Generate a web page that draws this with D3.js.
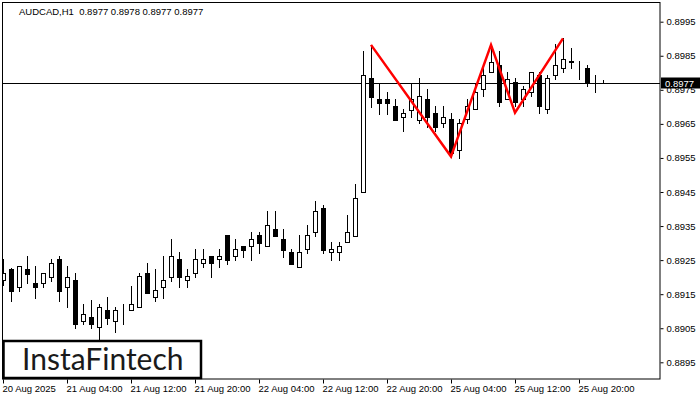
<!DOCTYPE html>
<html>
<head>
<meta charset="utf-8">
<script src="https://cdn.jsdelivr.net/npm/d3@7"></script>
<style>
  html, body { margin: 0; padding: 0; background: #ffffff; }
  svg { display: block; }
  text { font-family: "Liberation Sans", Arial, sans-serif; }
</style>
</head>
<body>
<svg id="chart" width="700" height="400"></svg>
<script>
// ---------- DATA ----------
const symbolTitle = "AUDCAD,H1  0.8977 0.8978 0.8977 0.8977";
const days = ["20 Aug", "21 Aug", "22 Aug", "25 Aug"];
const dayFirstHour = [20, 0, 0, 0];
const dayLastHour = [23, 23, 23, 23];

const openP  = [0.89192,0.89224,0.89172,0.89224,0.89183,0.89182,0.89201,0.89253,0.89172,0.89192,
                0.89071,0.89083,0.89053,0.89103,0.89071,0.89112,0.89103,0.89111,0.89211,0.89141,
                0.89172,0.89201,0.89253,0.89191,0.89211,0.89241,0.89262,0.89252,0.89324,0.89261,
                0.89291,0.89291,0.89324,0.89291,0.89340,0.89312,0.89274,0.89231,0.89282,0.89332,
                0.89403,0.89273,0.89273,0.89302,0.89322,0.89451,0.89784,0.89722,0.89722,0.89703,
                0.89671,0.89692,0.89662,0.89722,0.89681,0.89652,0.89663,0.89572,0.89663,0.89693,
                0.89752,0.89801,0.89823,0.89722,0.89772,0.89722,0.89743,0.89793,0.89693,0.89793,
                0.89813,0.89832,0.89824,0.89813,0.89783,0.8977];
const highP  = [0.89253,0.89226,0.89233,0.89262,0.89233,0.89213,0.89253,0.89262,0.89233,0.89211,
                0.89121,0.89133,0.89121,0.89143,0.89113,0.89121,0.89174,0.89211,0.89241,0.89224,
                0.89262,0.89311,0.89275,0.89224,0.89283,0.89283,0.89262,0.89283,0.89324,0.89312,
                0.89291,0.89333,0.89333,0.89394,0.89394,0.89341,0.89283,0.89324,0.89353,0.89424,
                0.89412,0.89303,0.89303,0.89382,0.89473,0.89864,0.89882,0.89771,0.89743,0.89722,
                0.89693,0.89771,0.89784,0.89752,0.89703,0.89703,0.89681,0.89663,0.89722,0.89770,
                0.89813,0.89882,0.89864,0.89801,0.89784,0.89762,0.89801,0.89801,0.89793,0.89885,
                0.89901,0.89872,0.89834,0.89822,0.89793,0.8978];
const lowP   = [0.89177,0.89131,0.89160,0.89182,0.89140,0.89172,0.89190,0.89131,0.89111,0.89052,
                0.89062,0.89052,0.89018,0.89062,0.89040,0.89062,0.89103,0.89111,0.89153,0.89131,
                0.89140,0.89190,0.89172,0.89172,0.89201,0.89231,0.89201,0.89231,0.89239,0.89251,
                0.89260,0.89251,0.89272,0.89291,0.89322,0.89260,0.89239,0.89231,0.89272,0.89322,
                0.89272,0.89251,0.89251,0.89302,0.89322,0.89451,0.89700,0.89680,0.89680,0.89662,
                0.89630,0.89671,0.89652,0.89642,0.89630,0.89642,0.89554,0.89551,0.89652,0.89693,
                0.89732,0.89801,0.89702,0.89722,0.89702,0.89702,0.89732,0.89681,0.89681,0.89783,
                0.89801,0.89813,0.89783,0.89762,0.89743,0.8977];
const closeP = [0.89211,0.89160,0.89232,0.89210,0.89172,0.89211,0.89241,0.89160,0.89201,0.89061,
                0.89091,0.89062,0.89112,0.89081,0.89103,0.89113,0.89120,0.89203,0.89153,0.89161,
                0.89192,0.89262,0.89201,0.89203,0.89252,0.89252,0.89241,0.89261,0.89251,0.89283,
                0.89281,0.89312,0.89301,0.89353,0.89322,0.89281,0.89239,0.89274,0.89324,0.89394,
                0.89281,0.89283,0.89291,0.89333,0.89432,0.89793,0.89730,0.89712,0.89712,0.89662,
                0.89681,0.89722,0.89731,0.89671,0.89642,0.89671,0.89564,0.89652,0.89702,0.89743,
                0.89793,0.89833,0.89713,0.89783,0.89713,0.89752,0.89801,0.89702,0.89784,0.89822,
                0.89841,0.89834,0.89823,0.89773,0.89782,0.8977];

const currentPrice = 0.8977;
const priceTicks = [0.8895,0.8905,0.8915,0.8925,0.8935,0.8945,0.8955,0.8965,0.8975,0.8985,0.8995];
const timeTickLabels = ["20 Aug 2025","21 Aug 04:00","21 Aug 12:00","21 Aug 20:00","22 Aug 04:00",
                        "22 Aug 12:00","22 Aug 20:00","25 Aug 04:00","25 Aug 12:00","25 Aug 20:00"];
const timeTickBars = ["20 Aug 20:00","21 Aug 04:00","21 Aug 12:00","21 Aug 20:00","22 Aug 04:00",
                      "22 Aug 12:00","22 Aug 20:00","25 Aug 04:00","25 Aug 12:00","25 Aug 20:00"];
// pattern (triple top) vertices
const patternBars   = ["21 Aug 22:00","22 Aug 08:00","22 Aug 13:00","22 Aug 16:00","22 Aug 22:00"];
const patternPrices = [0.89882, 0.89554, 0.89882, 0.89683, 0.89901];
const logoText = "InstaFintech";

// categories (hourly bars, weekend skipped)
const categories = [];
days.forEach((d, i) => {
  for (let h = dayFirstHour[i]; h <= dayLastHour[i]; h++) categories.push(d + " " + String(h).padStart(2, "0") + ":00");
});
const patternIdx = [46, 56, 61, 64, 70];

const candles = categories.map((t, i) => ({ t, o: openP[i], h: highP[i], l: lowP[i], c: closeP[i] }));

// ---------- LAYOUT ----------
const svg = d3.select("#chart");
const step = 8;

const x = d3.scaleBand().domain(categories).range([3 - step / 2, 3 - step / 2 + categories.length * step]).padding(0);
const cx = t => x(t) + step / 2;
const y = d3.scaleLinear().domain([0.8895, 0.8995]).range([362.3, 21.7]);
const py = v => Math.round(y(v));

svg.append("rect").attr("width", 700).attr("height", 400).attr("fill", "#fff");

svg.append("defs").append("clipPath").attr("id", "plotClip")
  .append("rect").attr("x", 3).attr("y", 3).attr("width", 657).attr("height", 376);

const plot = svg.append("g").attr("clip-path", "url(#plotClip)");

// current price line
plot.append("line")
  .attr("x1", 3).attr("x2", 660)
  .attr("y1", py(currentPrice) + 0.5).attr("y2", py(currentPrice) + 0.5)
  .attr("stroke", "#000").attr("stroke-width", 1);

// candles
const cg = plot.append("g").selectAll("g").data(candles).join("g");
cg.append("line")
  .attr("x1", d => Math.round(cx(d.t)) + 0.5).attr("x2", d => Math.round(cx(d.t)) + 0.5)
  .attr("y1", d => py(d.h)).attr("y2", d => py(d.l) + 1)
  .attr("stroke", "#000").attr("stroke-width", 1);
cg.append("rect")
  .attr("x", d => Math.round(cx(d.t)) - 1.5)
  .attr("width", 4)
  .attr("y", d => py(Math.max(d.o, d.c)) + 0.5)
  .attr("height", d => Math.max(0, py(Math.min(d.o, d.c)) - py(Math.max(d.o, d.c))))
  .attr("fill", d => d.c >= d.o ? "#fff" : "#000")
  .attr("stroke", "#000").attr("stroke-width", 1);

// pattern line
const lineGen = d3.line().x(d => cx(categories[d[0]])).y(d => y(d[1]));
plot.append("path")
  .datum(patternIdx.map((b, i) => [b, patternPrices[i]]))
  .attr("d", lineGen)
  .attr("fill", "none").attr("stroke", "#ff0000").attr("stroke-width", 2.5)
  .attr("stroke-linejoin", "miter");

// frame
svg.append("rect")
  .attr("x", 2.5).attr("y", 2.5)
  .attr("width", 657.5).attr("height", 376.5)
  .attr("fill", "none").attr("stroke", "#000").attr("stroke-width", 1);

// right price axis
const yAxis = d3.axisRight(y).tickValues(priceTicks).tickFormat(d3.format(".4f")).tickSize(3).tickPadding(3);
const ya = svg.append("g").attr("transform", "translate(660.5,0)").call(yAxis);
ya.select(".domain").remove();
ya.selectAll(".tick line").attr("stroke", "#000");
ya.selectAll(".tick text").attr("fill", "#000").style("font-size", "9.5px")
  .style("font-family", "'Liberation Sans', Arial, sans-serif");

// bottom time axis
const xAxis = d3.axisBottom(x).tickValues(timeTickBars)
  .tickFormat((d, i) => timeTickLabels[i]).tickSize(4).tickPadding(2);
const xa = svg.append("g").attr("transform", "translate(0,379.5)").call(xAxis);
xa.select(".domain").remove();
xa.selectAll(".tick").attr("transform", d => `translate(${Math.round(cx(d)) + 0.5},0)`);
xa.selectAll(".tick line").attr("stroke", "#000");
xa.selectAll(".tick text").attr("fill", "#000").attr("text-anchor", "start").attr("x", -1)
  .style("font-size", "9.5px").style("font-family", "'Liberation Sans', Arial, sans-serif");

// current price label
const cpY = py(currentPrice) + 0.5;
svg.append("rect").attr("x", 661).attr("y", cpY - 6).attr("width", 39).attr("height", 11).attr("fill", "#000");
svg.append("text").attr("x", 665).attr("y", cpY + 3.5).attr("fill", "#fff")
  .style("font-size", "9.5px").text(d3.format(".4f")(currentPrice));

// title
svg.append("text").attr("x", 19).attr("y", 15).attr("fill", "#000")
  .style("font-size", "9.5px").style("white-space", "pre").attr("xml:space", "preserve").text(symbolTitle);

// logo
svg.append("rect").attr("x", 3.5).attr("y", 341).attr("width", 197.5).attr("height", 37)
  .attr("fill", "#fff").attr("stroke", "#000").attr("stroke-width", 2.5);
svg.append("text").attr("x", 22).attr("y", 370).attr("fill", "#1a1a1a")
  .style("font-family", "Lato, 'Open Sans', sans-serif").style("font-size", "30px")
  .text(logoText);
</script>
</body>
</html>
